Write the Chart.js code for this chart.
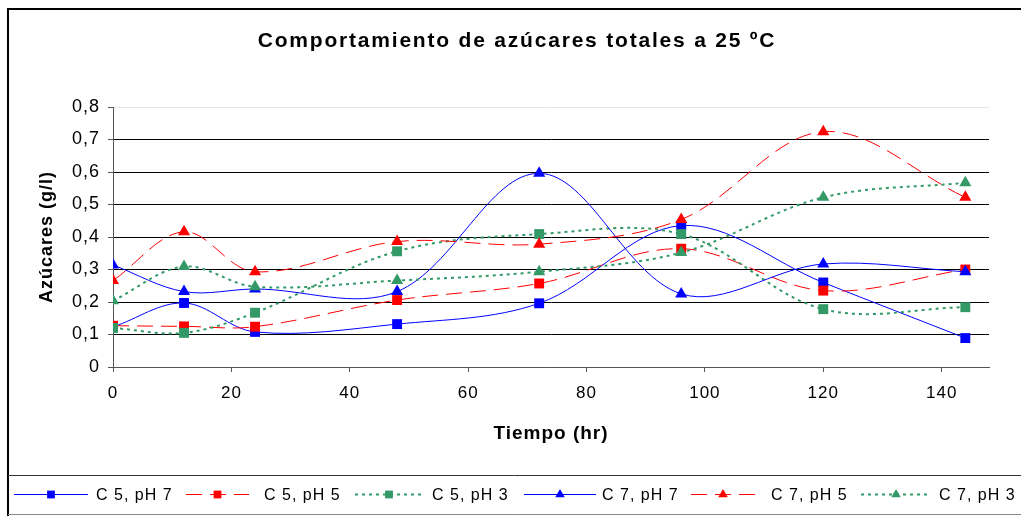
<!DOCTYPE html>
<html>
<head>
<meta charset="utf-8">
<script src="https://cdn.jsdelivr.net/npm/chart.js@4"></script>
<style>
  html, body { margin: 0; padding: 0; background: #fff; }
  #wrap { width: 1021px; height: 516px; position: relative; }
</style>
</head>
<body>
<div id="wrap"><canvas id="c" width="1021" height="516"></canvas></div>
<script>
const chartTitle = 'Comportamiento de azúcares totales a 25 ºC';
const times = [0, 12, 24, 48, 72, 96, 120, 144];
const xTicks = [0, 20, 40, 60, 80, 100, 120, 140];
const seriesNames = ['C 5, pH 7', 'C 5, pH 5', 'C 5, pH 3', 'C 7, pH 7', 'C 7, pH 5', 'C 7, pH 3'];
const c5ph7 = [0.123, 0.197, 0.108, 0.132, 0.196, 0.435, 0.26, 0.089];
const c5ph5 = [0.127, 0.125, 0.124, 0.206, 0.257, 0.364, 0.235, 0.30];
const c5ph3 = [0.12, 0.105, 0.167, 0.356, 0.409, 0.409, 0.178, 0.184];
const c7ph7 = [0.314, 0.232, 0.24, 0.232, 0.596, 0.225, 0.317, 0.293];
const c7ph5 = [0.266, 0.416, 0.293, 0.386, 0.378, 0.454, 0.724, 0.522];
const c7ph3 = [0.204, 0.309, 0.247, 0.266, 0.293, 0.352, 0.522, 0.567];

const FONT = '"Liberation Sans", Arial, sans-serif';
const BLUE = '#0000ff', RED = '#ff0000', GREEN = '#339966';
const styles = [
  { color: BLUE, dash: [], width: 1, point: 'rect', r: 7 },
  { color: RED, dash: [16, 8], width: 1, point: 'rect', r: 7 },
  { color: GREEN, dash: [3, 4], width: 2, point: 'rect', r: 7 },
  { color: BLUE, dash: [], width: 1, point: 'triangle', r: 7 },
  { color: RED, dash: [16, 8], width: 1, point: 'triangle', r: 7 },
  { color: GREEN, dash: [3, 4], width: 2, point: 'triangle', r: 7 },
];
const values = [c5ph7, c5ph5, c5ph3, c7ph7, c7ph5, c7ph3];

const datasets = values.map((vals, i) => ({
  label: seriesNames[i],
  data: vals.map((v, k) => ({ x: times[k], y: v })),
  borderColor: styles[i].color,
  backgroundColor: styles[i].color,
  borderWidth: styles[i].width,
  borderDash: styles[i].dash,
  pointStyle: styles[i].point,
  pointRadius: styles[i].r,
  pointBorderWidth: 0,
  pointBackgroundColor: styles[i].color,
  tension: 0.35,
  order: 6 - i,
}));

// Excel-ish wide text spacing for all chart text
const spacingPlugin = {
  id: 'spacing',
  beforeDraw(chart) { chart.ctx.letterSpacing = '1px'; }
};

// title, frame around the chart and the legend box underneath
const framePlugin = {
  id: 'frame',
  afterDraw(chart) {
    const ctx = chart.ctx;
    ctx.save();
    ctx.fillStyle = '#000';
    ctx.font = 'bold 21px ' + FONT;
    ctx.letterSpacing = '1.8px';
    ctx.textAlign = 'center';
    ctx.textBaseline = 'alphabetic';
    ctx.fillText(chartTitle, 517, 47);

    ctx.strokeStyle = '#000';
    ctx.lineWidth = 2;
    ctx.beginPath();
    ctx.moveTo(8, 516);
    ctx.lineTo(8, 9);
    ctx.lineTo(1021, 9);
    ctx.stroke();

    ctx.lineWidth = 1;
    ctx.strokeStyle = '#333';
    ctx.beginPath();
    ctx.moveTo(8, 475.5);
    ctx.lineTo(1021, 475.5);
    ctx.stroke();
    ctx.strokeStyle = '#888';
    ctx.beginPath();
    ctx.moveTo(8, 514.5);
    ctx.lineTo(1021, 514.5);
    ctx.stroke();

    const lineStart = [14, 186, 355, 524, 691, 861];
    const lineEnd = [88, 249, 423, 596, 755, 931];
    const textStart = [96, 264, 432, 602, 771, 939];
    const y = 494.5;
    ctx.font = '16px ' + FONT;
    ctx.letterSpacing = '1px';
    ctx.textAlign = 'left';
    ctx.textBaseline = 'middle';
    chart.data.datasets.forEach((ds, i) => {
      ctx.save();
      ctx.strokeStyle = ds.borderColor;
      ctx.lineWidth = ds.borderWidth;
      ctx.setLineDash(ds.borderDash);
      ctx.beginPath();
      ctx.moveTo(lineStart[i], y);
      ctx.lineTo(lineEnd[i], y);
      ctx.stroke();
      ctx.setLineDash([]);
      ctx.fillStyle = ds.borderColor;
      Chart.helpers.drawPoint(ctx, { pointStyle: ds.pointStyle, radius: 5.5, borderWidth: 0, rotation: 0 },
        (lineStart[i] + lineEnd[i]) / 2, y);
      ctx.restore();
      ctx.fillText(ds.label, textStart[i], y + 1);
    });
    ctx.restore();
  }
};

new Chart(document.getElementById('c'), {
  type: 'line',
  data: { datasets },
  options: {
    responsive: false,
    animation: false,
    layout: { padding: { left: 0, right: 32, top: 107, bottom: 41 } },
    plugins: {
      legend: { display: false },
      tooltip: { enabled: false },
      title: { display: false },
    },
    scales: {
      x: {
        type: 'linear',
        min: 0,
        max: 148,
        afterBuildTicks(scale) {
          scale.ticks = xTicks.map(v => ({ value: v }));
        },
        afterFit(scale) { scale.height = 108; },
        grid: { drawOnChartArea: false, drawTicks: true, tickLength: 5, tickColor: '#555' },
        border: { color: '#555', width: 1 },
        ticks: {
          color: '#000',
          padding: 11,
          maxRotation: 0,
          font: { family: FONT, size: 17 },
        },
        title: {
          display: true,
          text: 'Tiempo (hr)',
          color: '#000',
          font: { family: FONT, size: 19, weight: 'bold' },
          padding: { top: 0, bottom: 30 },
        },
      },
      y: {
        min: 0,
        max: 0.8,
        afterFit(scale) { scale.width = 113; },
        grid: {
          color: ctx => (ctx.tick && Math.abs(ctx.tick.value - 0.8) < 1e-6) ? '#e6e6e6' : (ctx.tick && ctx.tick.value === 0 ? '#555' : '#000'),
          lineWidth: 1,
          tickLength: 5,
          tickColor: '#555',
        },
        border: { color: '#555', width: 1 },
        ticks: {
          stepSize: 0.1,
          color: '#000',
          padding: 8,
          font: { family: FONT, size: 18 },
          callback: v => (Math.round(v * 10) / 10).toString().replace('.', ','),
        },
        title: {
          display: true,
          text: 'Azúcares (g/l)',
          color: '#000',
          font: { family: FONT, size: 18, weight: 'bold' },
          padding: { top: 36, bottom: 0 },
        },
      },
    },
  },
  plugins: [spacingPlugin, framePlugin],
});
</script>
</body>
</html>
